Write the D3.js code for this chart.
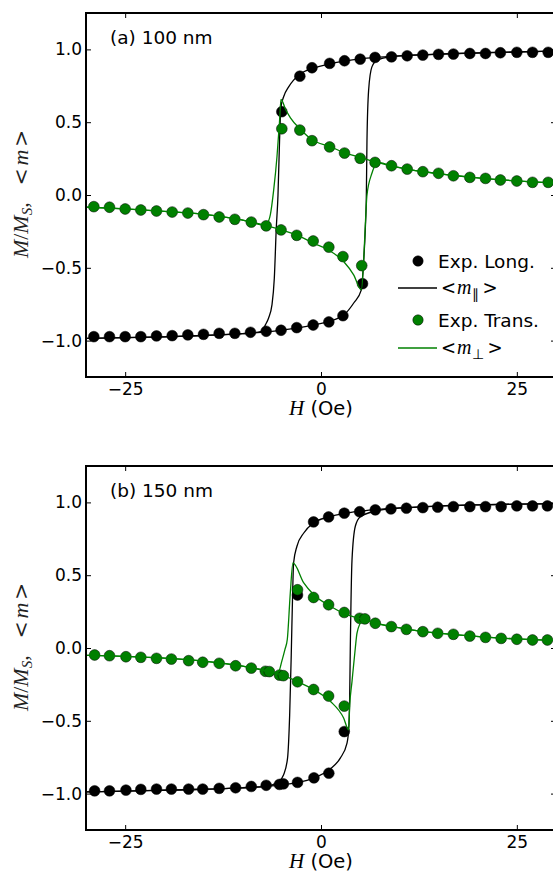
<!DOCTYPE html>
<html>
<head>
<meta charset="utf-8">
<script src="https://cdn.jsdelivr.net/npm/d3@7"></script>
<style>
  body { margin: 0; background: #fff; }
  svg { display: block; }
</style>
</head>
<body>
<div id="chart"></div>
<script>
// ---- data (H in Oe, normalised magnetisation) ----
const xTicks = [-25, 0, 25];
const yTicks = [-1.0, -0.5, 0.0, 0.5, 1.0];

// panel (a) 100 nm : experiment
const aLongExp = [
  [-29,-0.973],[-27,-0.973],[-25,-0.973],[-23,-0.973],[-21,-0.968],[-19,-0.966],[-17,-0.961],
  [-15,-0.957],[-13,-0.950],[-11,-0.950],[-9,-0.943],[-7,-0.936],[-5.1,-0.929],[-3.1,-0.911],
  [-1,-0.893],[1,-0.872],[2.8,-0.829],[5.3,-0.609],
  [-5,0.572],[-2.7,0.816],[-1.15,0.874],[1.1,0.904],[3,0.922],[5,0.933],[6.9,0.945],[9,0.949],
  [11,0.956],[13,0.961],[15,0.966],[16.9,0.968],[19,0.972],[21,0.972],[22.9,0.977],[25,0.98],
  [27,0.98],[29,0.98]
];
const aTransExp = [
  [-29,-0.080],[-27,-0.084],[-25,-0.096],[-23,-0.103],[-21,-0.110],[-19,-0.117],[-17,-0.124],
  [-15,-0.135],[-13,-0.151],[-11,-0.167],[-8.9,-0.186],[-7,-0.212],[-5.1,-0.240],[-3.1,-0.277],
  [-1,-0.316],[1,-0.358],[2.8,-0.423],[5.2,-0.485],
  [-5,0.455],[-2.7,0.446],[-1.15,0.373],[1.1,0.33],[3,0.288],[5,0.252],[6.9,0.224],[9,0.201],
  [11,0.178],[13,0.160],[15,0.149],[16.9,0.132],[19,0.121],[21,0.114],[22.9,0.103],[25,0.096],
  [27,0.087],[29,0.087]
];
// panel (a) 100 nm : model, field sweep up and sweep down
const aLongUp = [
  [-30,-0.985],[-25,-0.98],[-20,-0.974],[-15,-0.965],[-10,-0.952],[-7,-0.94],[-5,-0.928],
  [-3,-0.912],[-1,-0.893],[1,-0.868],[2.9,-0.825],[4.2,-0.74],[5.15,-0.652],[5.44,-0.457],
  [5.66,-0.229],[5.79,0.0],[5.87,0.377],[6.08,0.72],[6.5,0.88],[7.15,0.925],[9,0.95],
  [13,0.963],[17,0.972],[21,0.978],[25,0.983],[30,0.988]
];
const aLongDown = [
  [-30,-0.985],[-25,-0.98],[-20,-0.974],[-15,-0.965],[-10,-0.952],[-8,-0.942],[-7.5,-0.93],
  [-7.1,-0.892],[-6.7,-0.846],[-6.26,-0.755],[-5.96,-0.572],[-5.71,-0.229],[-5.49,0.0],
  [-5.29,0.377],[-5.12,0.6],[-4.77,0.675],[-4.13,0.743],[-3.5,0.789],[-2.86,0.823],[-1,0.87],
  [1,0.9],[3,0.92],[5,0.935],[7,0.945],[10,0.955],[15,0.967],[20,0.975],[25,0.982],[30,0.988]
];
const aTransUp = [
  [-30,-0.083],[-25,-0.095],[-20,-0.112],[-15,-0.133],[-11,-0.163],[-9,-0.185],[-7,-0.21],
  [-5,-0.24],[-3,-0.277],[-0.94,-0.332],[0.97,-0.378],[2.89,-0.457],[4.17,-0.549],[5.15,-0.652],
  [5.44,-0.457],[5.62,-0.25],[5.87,0.0],[6.5,0.149],[6.93,0.205],[7.5,0.222],[9,0.2],[11,0.178],
  [13,0.16],[15,0.147],[17,0.134],[19,0.123],[21,0.113],[23,0.104],[25,0.097],[27,0.09],[30,0.082]
];
const aTransDown = [
  [-30,-0.083],[-25,-0.095],[-20,-0.112],[-15,-0.133],[-11,-0.163],[-9,-0.185],[-7.6,-0.205],
  [-6.9,-0.194],[-6.47,-0.137],[-6.05,0.03],[-5.62,0.263],[-5.3,0.5],[-5.11,0.657],[-4.5,0.585],
  [-3.9,0.53],[-2.7,0.455],[-1.15,0.38],[1.19,0.332],[3,0.29],[5,0.259],[7,0.225],[9,0.2],
  [11,0.178],[13,0.16],[15,0.147],[17,0.134],[19,0.123],[21,0.113],[23,0.104],[25,0.097],
  [27,0.09],[30,0.082]
];

// panel (b) 150 nm : experiment
const bLongExp = [
  [-28.9,-0.981],[-27,-0.981],[-24.9,-0.976],[-23,-0.971],[-21,-0.969],[-19.1,-0.969],
  [-16.9,-0.969],[-15.1,-0.969],[-13,-0.964],[-10.9,-0.96],[-8.9,-0.951],[-7,-0.943],
  [-5.3,-0.937],[-4.8,-0.933],[-3,-0.923],[-0.9,-0.892],[1,-0.86],[2.97,-0.574],
  [-3,0.364],[-0.95,0.866],[0.97,0.9],[2.97,0.926],[4.93,0.936],[6.93,0.949],[8.93,0.955],
  [10.9,0.96],[13,0.964],[14.9,0.967],[16.9,0.971],[19,0.971],[21,0.971],[23,0.971],
  [25,0.976],[27,0.976],[28.9,0.976]
];
const bTransExp = [
  [-28.9,-0.048],[-27,-0.053],[-24.9,-0.06],[-23,-0.064],[-21,-0.071],[-19.1,-0.076],
  [-16.9,-0.087],[-15.1,-0.098],[-13,-0.105],[-10.9,-0.122],[-8.9,-0.138],[-7.1,-0.16],
  [-6.6,-0.162],[-5.3,-0.186],[-4.8,-0.19],[-3,-0.232],[-0.95,-0.285],[0.97,-0.33],[2.97,-0.399],
  [-3,0.4],[-0.95,0.347],[0.97,0.297],[2.97,0.244],[4.93,0.204],[5.6,0.2],[6.93,0.17],
  [8.98,0.147],[10.9,0.128],[13,0.112],[14.9,0.101],[16.9,0.094],[19,0.082],[21,0.073],
  [23,0.066],[25,0.06],[27,0.055],[28.9,0.055]
];
// panel (b) 150 nm : model
const bLongUp = [
  [-30,-0.988],[-25,-0.983],[-20,-0.977],[-15,-0.97],[-10,-0.96],[-7,-0.95],[-5,-0.94],
  [-3.07,-0.925],[-0.94,-0.894],[1.19,-0.83],[2.46,-0.756],[3.32,-0.653],[3.53,-0.562],
  [3.66,-0.344],[3.74,0.0],[3.96,0.607],[4.38,0.836],[5,0.9],[7,0.94],[10,0.96],[15,0.975],
  [20,0.983],[25,0.988],[30,0.992]
];
const bLongDown = [
  [-30,-0.988],[-25,-0.983],[-20,-0.977],[-15,-0.97],[-10,-0.96],[-7,-0.95],[-5.4,-0.916],
  [-4.77,-0.87],[-4.27,-0.756],[-4.0,-0.458],[-3.8,-0.05],[-3.62,0.378],[-3.5,0.584],
  [-3.07,0.699],[-2.2,0.79],[-0.95,0.859],[1,0.9],[3,0.925],[5,0.94],[7,0.95],[10,0.962],
  [15,0.975],[20,0.983],[25,0.988],[30,0.992]
];
const bTransUp = [
  [-30,-0.05],[-25,-0.058],[-20,-0.07],[-15,-0.09],[-10,-0.125],[-7,-0.155],[-5,-0.185],
  [-3.07,-0.229],[-0.94,-0.286],[1.19,-0.366],[2.89,-0.481],[3.53,-0.562],[3.66,-0.4],
  [3.96,-0.229],[4.38,0.0],[4.6,0.103],[5.24,0.183],[6,0.19],[7,0.17],[9,0.148],[11,0.13],
  [13,0.113],[15,0.102],[17,0.092],[19,0.083],[21,0.075],[23,0.068],[25,0.062],[27,0.057],
  [30,0.052]
];
const bTransDown = [
  [-30,-0.05],[-25,-0.058],[-20,-0.07],[-15,-0.09],[-10,-0.125],[-7,-0.16],[-6.4,-0.172],
  [-5.4,-0.16],[-5.0,-0.09],[-4.6,-0.01],[-4.3,0.06],[-3.92,0.378],[-3.58,0.584],[-2.2,0.447],
  [-0.95,0.367],[1.19,0.287],[3.3,0.229],[5.44,0.195],[7,0.17],[9,0.148],[11,0.13],[13,0.113],
  [15,0.102],[17,0.092],[19,0.083],[21,0.075],[23,0.068],[25,0.062],[27,0.057],[30,0.052]
];

const panelLabels = ["(a) 100 nm", "(b) 150 nm"];
const legendLabels = ["Exp. Long.", "<m\u2225>", "Exp. Trans.", "<m\u22a5>"];

// ---- layout ----
const width = 553;
const height = 874;
const plotLeft = 86, plotRight = 556, plotH = 364;
const panelTops = [13, 466];
const green = "#008000";
const serif = "'Liberation Serif', serif";
const relFont = "'DejaVu Serif', serif"; // for the < > relation signs

const svg = d3.select("#chart").append("svg")
  .attr("width", width)
  .attr("height", height)
  .style("font-family", "'DejaVu Sans', sans-serif");

const x = d3.scaleLinear().domain([-30, 30]).range([plotLeft, plotRight]);

const panels = [
  { top: panelTops[0], label: panelLabels[0], longExp: aLongExp, transExp: aTransExp,
    longUp: aLongUp, longDown: aLongDown, transUp: aTransUp, transDown: aTransDown, legend: true },
  { top: panelTops[1], label: panelLabels[1], longExp: bLongExp, transExp: bTransExp,
    longUp: bLongUp, longDown: bLongDown, transUp: bTransUp, transDown: bTransDown, legend: false }
];

panels.forEach((p, i) => {
  const y = d3.scaleLinear().domain([-1.25, 1.25]).range([p.top + plotH, p.top]);
  const g = svg.append("g");

  g.append("clipPath").attr("id", "clip" + i)
    .append("rect")
    .attr("x", plotLeft).attr("y", p.top)
    .attr("width", plotRight - plotLeft).attr("height", plotH);

  const line = d3.line()
    .x((d) => x(d[0]))
    .y((d) => y(d[1]))
    .curve(d3.curveMonotoneX);

  const plot = g.append("g").attr("clip-path", `url(#clip${i})`);

  // drawing order: long. points, long. model, trans. points, trans. model
  plot.selectAll("circle.long")
    .data(p.longExp)
    .enter().append("circle")
    .attr("class", "long")
    .attr("cx", (d) => x(d[0]))
    .attr("cy", (d) => y(d[1]))
    .attr("r", 5.4)
    .attr("fill", "#000")
    .attr("stroke", "#000")
    .attr("stroke-width", 0.5);

  [p.longUp, p.longDown].forEach((branch) => {
    plot.append("path")
      .datum(branch)
      .attr("d", line)
      .attr("fill", "none")
      .attr("stroke", "#000")
      .attr("stroke-width", 1.3);
  });

  plot.selectAll("circle.trans")
    .data(p.transExp)
    .enter().append("circle")
    .attr("class", "trans")
    .attr("cx", (d) => x(d[0]))
    .attr("cy", (d) => y(d[1]))
    .attr("r", 5.4)
    .attr("fill", green)
    .attr("stroke", "#000")
    .attr("stroke-width", 0.5);

  [p.transUp, p.transDown].forEach((branch) => {
    plot.append("path")
      .datum(branch)
      .attr("d", line)
      .attr("fill", "none")
      .attr("stroke", green)
      .attr("stroke-width", 1.3);
  });

  // axes, ticks pointing inwards
  const bottom = g.append("g")
    .attr("transform", `translate(0,${p.top + plotH})`)
    .call(d3.axisBottom(x).tickValues(xTicks).tickSizeInner(-5).tickSizeOuter(0)
      .tickPadding(6).tickFormat(d3.format("d")));
  const top = g.append("g")
    .attr("transform", `translate(0,${p.top})`)
    .call(d3.axisTop(x).tickValues(xTicks).tickSizeInner(-5).tickSizeOuter(0).tickFormat(""));
  const left = g.append("g")
    .attr("transform", `translate(${plotLeft},0)`)
    .call(d3.axisLeft(y).tickValues(yTicks).tickSizeInner(-5).tickSizeOuter(0)
      .tickPadding(4).tickFormat(d3.format(".1f")));
  const right = g.append("g")
    .attr("transform", `translate(${plotRight},0)`)
    .call(d3.axisRight(y).tickValues(yTicks).tickSizeInner(-5).tickSizeOuter(0).tickFormat(""));

  [bottom, top, left, right].forEach((a) => {
    a.select(".domain").remove();
    a.selectAll("line").attr("stroke", "#000").attr("stroke-width", 1);
    a.selectAll("text")
      .attr("fill", "#000")
      .style("font-family", "'DejaVu Sans', sans-serif")
      .style("font-size", "17px");
  });

  // frame
  g.append("rect")
    .attr("x", plotLeft).attr("y", p.top)
    .attr("width", plotRight - plotLeft).attr("height", plotH)
    .attr("fill", "none")
    .attr("stroke", "#000")
    .attr("stroke-width", 2);

  // panel label
  g.append("text")
    .attr("x", 110).attr("y", p.top + 31)
    .attr("font-size", "18.5px")
    .text(p.label);

  // x label
  const xl = g.append("text")
    .attr("x", 321).attr("y", p.top + plotH + 38)
    .attr("text-anchor", "middle")
    .attr("font-size", "19.5px");
  xl.append("tspan")
    .style("font-family", serif)
    .style("font-style", "italic")
    .attr("font-size", "21px")
    .text("H");
  xl.append("tspan").text(" (Oe)");

  // y label
  const yl = g.append("text")
    .attr("transform", `translate(28,${p.top + plotH / 2 - 1}) rotate(-90)`)
    .attr("text-anchor", "middle")
    .attr("fill", "#222")
    .style("font-family", serif)
    .attr("font-size", "22px");
  yl.append("tspan").style("font-style", "italic").text("M");
  yl.append("tspan").text("/");
  yl.append("tspan").style("font-style", "italic").text("M");
  yl.append("tspan").style("font-style", "italic").attr("font-size", "15px").attr("dy", 4).text("S");
  yl.append("tspan").attr("dy", -4).text(",");
  yl.append("tspan").style("font-family", relFont).attr("font-size", "20px").attr("dx", 17).text("<");
  yl.append("tspan").style("font-style", "italic").attr("dx", 3).text("m");
  yl.append("tspan").style("font-family", relFont).attr("font-size", "20px").attr("dx", 3).text(">");

  if (p.legend) {
    const lg = g.append("g");
    const rowY = [261, 288, 320, 348];
    const colors = ["#000", "#000", green, green];
    rowY.forEach((ry, k) => {
      if (k % 2 === 0) {
        lg.append("circle")
          .attr("cx", 418).attr("cy", ry).attr("r", 5.2)
          .attr("fill", colors[k]).attr("stroke", "#000").attr("stroke-width", 0.5);
        lg.append("text")
          .attr("x", 438).attr("y", ry + 7)
          .attr("font-size", "18.5px")
          .text(legendLabels[k]);
      } else {
        lg.append("line")
          .attr("x1", 398).attr("x2", 437)
          .attr("y1", ry).attr("y2", ry)
          .attr("stroke", colors[k]).attr("stroke-width", 1.5);
        const t = lg.append("text")
          .attr("x", 441).attr("y", ry + 6)
          .style("font-family", serif)
          .attr("font-size", "20px");
        t.append("tspan").style("font-family", relFont).attr("font-size", "18px").text("<");
        t.append("tspan").style("font-style", "italic").attr("dx", 1).text("m");
        t.append("tspan").attr("font-size", "14px").attr("dy", 5)
          .text(legendLabels[k].slice(2, 3));
        t.append("tspan").style("font-family", relFont).attr("font-size", "18px")
          .attr("dy", -5).attr("dx", 4).text(">");
      }
    });
  }
});
</script>
</body>
</html>
